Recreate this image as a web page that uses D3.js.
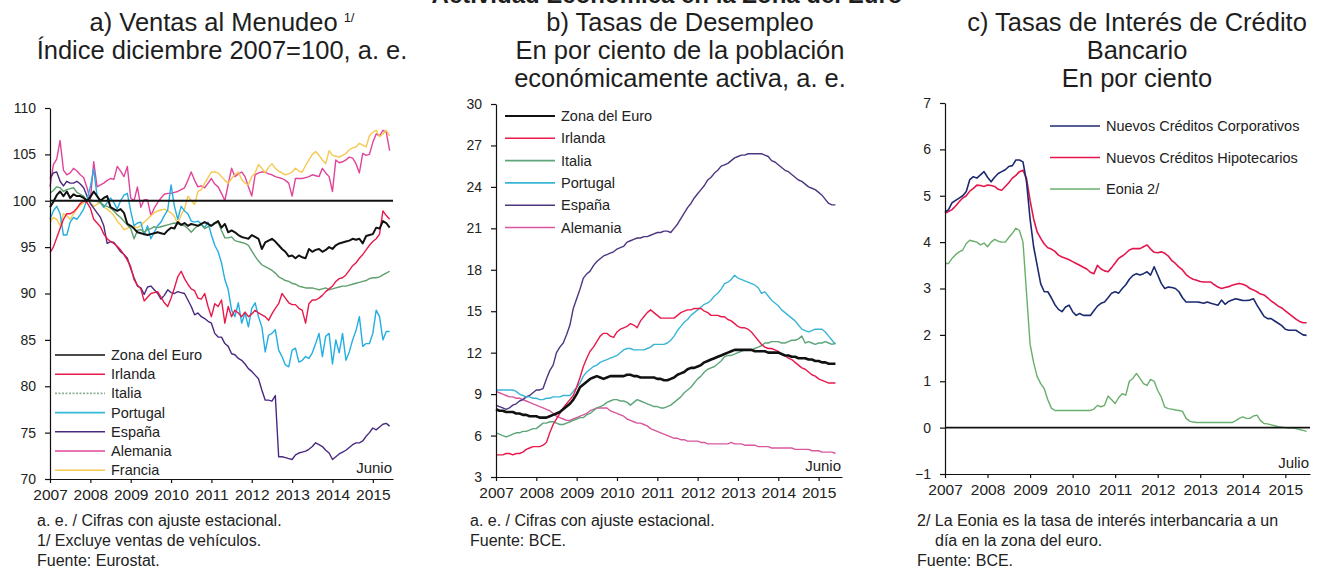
<!DOCTYPE html>
<html>
<head>
<meta charset="utf-8">
<script src="https://d3js.org/d3.v7.min.js"></script>
<style>
  body { margin: 0; background: #fff; }
  svg { display: block; font-family: "Liberation Sans", Arial, sans-serif; }
  .title { font-size: 25.5px; fill: #1e1e1e; text-anchor: middle; }
  .suptitle { font-size: 24px; font-weight: bold; fill: #1e1e1e; text-anchor: middle; }
  .axis path, .axis line { stroke: #111; stroke-width: 1.2px; }
  .yaxis text { font-size: 14px; fill: #222; }
  .xaxis text { font-family: "Liberation Sans Narrow", "Arial Narrow", sans-serif; font-size: 15.5px; fill: #222; }
  .legend text { font-size: 14.5px; fill: #222; }
  .note { font-family: "Liberation Sans Narrow", "Arial Narrow", sans-serif; font-size: 16px; fill: #222; }
  .endlabel { font-size: 15px; fill: #222; text-anchor: end; }
</style>
</head>
<body>
<script>
// ---- data ----
var years = [2007, 2008, 2009, 2010, 2011, 2012, 2013, 2014, 2015];
var aTicks = [70, 75, 80, 85, 90, 95, 100, 105, 110];
var bTicks = [3, 6, 9, 12, 15, 18, 21, 24, 27, 30];
var cTicks = [-1, 0, 1, 2, 3, 4, 5, 6, 7];

// a) Ventas al menudeo, enero 2007 - junio 2015
var aZona = [99.3,99.9,100.6,101.0,100.5,101.0,100.3,100.7,100.5,100.5,100.3,100.0,
  100.4,101.0,100.5,100.0,100.3,100.5,99.3,99.1,98.9,99.1,98.7,97.5,
  97.3,97.0,96.6,96.5,96.4,96.3,96.4,96.5,96.6,96.5,96.4,96.8,
  97.1,97.0,97.7,97.4,97.6,97.3,97.5,97.4,97.3,97.5,97.7,97.5,
  97.3,97.6,97.8,97.1,97.5,96.6,96.8,96.6,96.3,96.1,96.0,95.9,
  96.3,96.1,95.9,94.8,95.5,95.7,95.9,95.6,95.2,94.8,94.5,94.0,
  94.1,93.8,94.1,93.9,93.8,94.8,94.5,94.7,94.8,94.5,94.7,95.0,
  94.8,95.2,95.4,95.5,95.6,95.7,95.9,95.8,95.9,95.4,96.2,96.3,
  96.4,97.1,97.0,97.8,97.6,97.1];
var aIrlanda = [94.4,95.0,96.0,97.0,98.0,98.6,98.6,98.8,99.2,99.7,100.0,99.8,
  99.2,98.0,97.6,97.2,96.4,95.9,95.6,95.4,95.1,94.7,94.2,93.6,
  92.9,91.5,90.9,90.5,89.2,89.6,90.0,90.1,90.2,89.6,89.0,88.6,
  89.5,90.6,91.8,92.4,91.6,91.0,90.5,90.3,89.5,89.4,90.0,88.6,
  87.5,88.9,88.6,89.3,86.8,88.6,87.5,88.2,87.9,87.5,88.0,87.5,
  87.8,88.2,87.9,87.7,87.5,87.1,87.8,88.4,88.9,90.0,89.5,89.0,
  88.8,88.8,88.4,88.2,86.8,88.9,89.3,89.3,89.5,89.8,90.2,90.5,
  90.8,91.3,91.6,91.7,92.0,92.5,93.0,93.3,93.8,94.2,94.7,95.2,
  95.6,95.9,96.4,98.9,98.4,98.0];
var aItalia = [100.8,101.1,101.5,101.4,101.0,101.2,101.3,101.4,100.9,100.7,100.5,100.0,
  100.1,100.0,99.9,99.8,99.5,99.4,99.2,98.9,98.5,98.2,97.8,97.4,
  97.0,95.9,96.8,96.9,96.6,96.9,97.0,97.2,97.1,97.2,97.3,97.4,
  97.5,97.6,97.5,97.4,97.3,97.0,96.6,97.0,97.3,97.4,97.0,97.2,
  97.3,97.5,97.7,96.8,96.0,96.0,96.1,95.7,95.6,95.5,95.4,95.2,
  94.6,94.0,93.5,93.1,92.9,92.7,92.5,92.2,91.8,91.6,91.4,91.3,
  91.1,91.0,90.8,90.7,90.6,90.6,90.6,90.5,90.4,90.5,90.6,90.4,
  90.5,90.6,90.7,90.8,90.8,90.9,91.0,91.1,91.2,91.3,91.4,91.6,
  91.7,91.7,91.8,92.0,92.2,92.4];
var aPortugal = [98.0,98.9,99.4,98.6,96.3,96.3,97.7,98.2,98.0,98.5,99.1,100.1,
  101.5,103.4,100.5,99.8,99.3,99.8,100.3,99.8,99.1,100.0,100.6,100.8,
  98.9,97.3,97.6,97.7,96.3,97.3,95.9,96.6,97.3,97.7,98.4,99.0,
  101.7,99.4,98.0,99.4,98.9,98.6,97.8,97.7,97.8,97.5,97.1,97.7,
  96.3,95.2,94.5,93.3,91.5,90.4,88.2,87.5,89.0,86.8,87.9,86.4,
  88.4,89.0,87.5,86.4,83.7,85.5,85.7,86.1,83.9,83.2,82.3,82.1,
  83.9,84.1,82.6,82.8,83.2,83.0,83.6,84.6,85.7,83.2,85.4,85.7,
  82.4,85.0,83.6,85.7,82.8,83.7,85.0,86.0,87.5,84.3,84.6,84.6,
  85.7,88.2,87.5,85.0,85.9,85.9];
var aEspana = [102.4,103.0,103.1,102.1,101.6,102.1,101.9,101.9,102.1,101.8,101.4,100.5,
  99.7,99.2,98.7,98.2,97.3,95.4,95.6,95.5,95.0,94.5,94.2,93.8,
  92.7,91.7,90.8,90.6,89.9,90.7,90.8,90.4,90.0,89.4,89.8,90.4,
  90.1,90.0,90.2,90.1,90.0,89.3,88.6,87.7,87.9,87.5,87.3,87.0,
  86.8,85.7,85.3,85.3,84.6,84.3,83.5,83.4,83.0,82.8,82.4,81.9,
  81.6,81.2,80.8,79.6,78.5,78.5,78.4,79.0,72.4,72.4,72.3,72.2,
  72.1,72.6,72.8,72.9,73.0,73.2,73.5,73.9,73.7,73.5,73.1,72.8,
  72.1,72.4,72.7,72.9,73.1,73.4,73.7,73.9,73.9,74.1,74.6,75.0,
  75.5,75.3,75.6,75.9,76.0,75.7];
var aAlemania = [101.5,103.9,104.5,106.5,103.3,102.8,103.0,103.5,103.2,102.8,102.5,101.4,
  100.1,104.2,101.5,101.7,101.9,102.2,102.4,102.3,103.7,103.2,102.6,103.7,
  100.3,100.0,101.5,99.3,100.1,100.1,98.4,99.2,99.8,100.3,100.7,100.8,
  100.8,100.9,101.0,101.2,101.4,102.2,103.1,102.2,101.5,101.6,101.4,101.9,
  102.4,101.8,101.5,100.8,100.0,101.8,103.5,102.6,102.9,103.1,102.6,101.5,
  100.5,102.8,103.0,103.1,103.1,102.9,102.8,102.6,102.5,102.4,102.2,101.9,
  100.5,102.4,102.4,102.4,102.5,102.6,102.8,102.7,102.6,103.5,103.0,102.6,
  101.0,104.4,104.1,104.2,104.4,104.7,104.6,104.0,103.0,105.1,104.9,105.0,
  106.3,107.2,107.0,107.6,107.4,105.4];
var aFrancia = [97.7,98.2,98.0,97.3,98.6,98.4,98.0,98.6,99.1,99.5,99.8,100.0,
  99.8,99.4,99.6,99.8,99.3,99.1,98.8,98.4,97.8,97.4,96.9,97.0,
  97.3,97.2,97.1,97.3,97.7,98.0,98.4,98.7,98.9,99.0,99.1,98.9,
  98.7,98.3,97.5,98.5,99.1,100.5,100.0,99.6,101.0,101.2,101.9,102.5,
  103.1,103.1,103.0,102.6,102.2,101.9,102.4,102.8,103.1,102.3,101.9,101.7,
  102.6,103.0,103.9,103.5,103.0,103.6,104.0,103.5,103.2,103.0,102.8,102.9,
  103.1,103.5,103.2,103.1,103.8,104.4,105.0,105.3,104.9,104.4,104.0,105.4,
  104.9,104.8,104.7,104.9,105.1,105.5,105.7,105.8,106.2,106.0,105.8,107.0,
  107.4,107.6,106.9,107.2,107.6,107.0];

// b) Tasas de desempleo, enero 2007 - junio 2015
var bZona = [7.9,7.8,7.8,7.7,7.7,7.7,7.6,7.6,7.5,7.5,7.4,7.4,
  7.4,7.3,7.3,7.3,7.4,7.5,7.6,7.7,7.9,8.1,8.3,8.6,
  9.0,9.5,9.7,9.9,10.1,10.2,10.3,10.2,10.1,10.2,10.3,10.3,
  10.3,10.3,10.3,10.4,10.4,10.3,10.3,10.2,10.2,10.2,10.2,10.2,
  10.1,10.1,10.0,10.0,10.1,10.2,10.4,10.5,10.6,10.8,10.9,10.9,
  11.0,11.1,11.3,11.4,11.5,11.6,11.7,11.8,11.9,12.0,12.1,12.2,
  12.2,12.2,12.2,12.2,12.2,12.1,12.1,12.1,12.1,12.0,12.0,12.0,
  12.0,11.9,11.8,11.8,11.7,11.7,11.6,11.6,11.6,11.5,11.5,11.4,
  11.4,11.3,11.3,11.2,11.2,11.2];
var bIrlanda = [4.6,4.6,4.6,4.7,4.7,4.6,4.7,4.7,4.8,5.0,5.1,5.2,
  5.2,5.2,5.3,5.5,6.2,6.8,7.2,7.6,8.0,8.3,8.6,8.9,
  9.5,10.2,11.0,11.6,12.1,12.4,12.8,13.2,13.4,13.4,13.2,13.1,
  13.5,13.7,13.8,13.9,14.1,14.0,13.8,14.3,14.6,14.9,15.1,14.9,
  14.7,14.5,14.5,14.5,14.5,14.5,14.7,14.9,15.0,15.1,15.1,15.2,
  15.2,15.2,15.0,14.9,14.7,14.7,14.7,14.6,14.6,14.4,14.3,14.1,
  13.9,13.8,13.8,13.7,13.5,13.2,12.9,12.6,12.4,12.3,12.3,12.2,
  12.1,11.9,11.8,11.6,11.5,11.3,11.1,10.9,10.8,10.6,10.4,10.3,
  10.1,10.0,9.9,9.8,9.8,9.8];
var bItalia = [6.2,6.1,6.0,5.9,6.0,6.1,6.2,6.2,6.3,6.3,6.4,6.5,
  6.5,6.7,6.9,6.9,7.0,7.0,6.9,6.8,6.8,6.9,7.0,7.1,
  7.2,7.3,7.3,7.5,7.6,7.8,8.0,8.1,8.2,8.4,8.5,8.6,
  8.6,8.5,8.5,8.4,8.2,8.4,8.6,8.5,8.4,8.3,8.2,8.1,
  8.1,8.0,8.0,8.1,8.2,8.4,8.6,8.8,9.1,9.3,9.5,9.8,
  10.1,10.3,10.6,10.8,10.9,11.0,11.2,11.4,11.7,11.8,11.8,11.9,
  12.0,12.1,12.2,12.2,12.2,12.3,12.4,12.5,12.7,12.7,12.8,12.8,
  12.8,12.7,12.7,12.8,12.9,12.9,13.0,13.2,12.7,12.8,12.7,12.6,
  12.7,12.7,12.8,12.7,12.6,12.7];
var bPortugal = [9.3,9.3,9.3,9.3,9.3,9.3,9.2,9.0,8.9,8.8,8.8,8.7,
  8.7,8.6,8.6,8.7,8.7,8.8,8.8,8.8,8.9,8.9,8.9,9.2,
  9.5,9.8,10.3,10.6,10.8,11.0,11.1,11.3,11.4,11.5,11.6,11.7,
  11.8,12.0,12.2,12.3,12.3,12.2,12.2,12.2,12.2,12.3,12.4,12.6,
  12.6,12.6,12.6,12.7,12.9,13.2,13.6,13.9,14.2,14.4,14.7,14.9,
  15.1,15.3,15.5,15.6,15.8,16.1,16.3,16.6,17.0,17.1,17.3,17.6,
  17.4,17.3,17.2,17.1,17.0,16.9,16.7,16.3,16.4,16.1,15.8,15.6,
  15.4,15.1,14.9,14.7,14.5,14.3,14.0,13.7,13.6,13.5,13.6,13.7,
  13.7,13.7,13.5,13.2,12.9,12.6];
var bEspana = [8.2,8.1,8.0,7.9,8.0,8.2,8.3,8.5,8.6,8.8,8.9,9.1,
  9.3,9.3,9.4,10.1,10.7,11.1,12.0,12.4,12.7,13.3,14.0,15.2,
  15.9,16.6,17.4,17.7,17.9,18.3,18.6,18.8,19.0,19.1,19.2,19.3,
  19.5,19.6,19.7,20.0,20.1,20.2,20.3,20.3,20.4,20.4,20.5,20.6,
  20.7,20.7,20.8,20.8,20.7,21.0,21.3,21.7,22.1,22.5,22.8,23.2,
  23.5,23.8,24.1,24.5,24.7,25.0,25.2,25.5,25.6,25.7,25.9,26.1,
  26.2,26.3,26.3,26.4,26.4,26.4,26.4,26.4,26.3,26.2,25.9,25.8,
  25.6,25.4,25.2,25.1,24.9,24.7,24.5,24.4,24.2,24.0,23.9,23.8,
  23.6,23.4,23.1,22.8,22.7,22.7];
var bAlemania = [9.2,9.1,9.0,8.9,8.8,8.8,8.7,8.7,8.6,8.5,8.4,8.3,
  8.2,8.1,8.0,7.9,7.8,7.6,7.4,7.3,7.2,7.1,7.1,7.2,
  7.3,7.4,7.5,7.6,7.8,7.9,8.0,8.0,8.0,8.0,7.8,7.7,
  7.6,7.5,7.4,7.2,7.1,7.0,6.9,6.9,6.8,6.7,6.5,6.4,
  6.3,6.2,6.1,6.0,5.9,5.8,5.8,5.7,5.7,5.6,5.6,5.6,
  5.6,5.5,5.5,5.4,5.4,5.4,5.4,5.4,5.4,5.4,5.5,5.4,
  5.4,5.4,5.3,5.3,5.3,5.3,5.2,5.2,5.2,5.2,5.1,5.1,
  5.1,5.1,5.1,5.1,5.1,5.0,5.0,5.0,5.0,5.0,4.9,4.9,
  4.9,4.8,4.8,4.8,4.8,4.7];

// c) Tasas de interés, enero 2007 - julio 2015
var cCorporativos = [4.65,4.7,4.85,4.9,4.95,5.0,5.09,5.35,5.41,5.38,5.45,5.52,
  5.4,5.3,5.4,5.48,5.52,5.56,5.63,5.65,5.77,5.77,5.73,5.3,
  4.5,3.9,3.5,3.1,2.93,2.93,2.8,2.65,2.55,2.5,2.6,2.64,
  2.5,2.42,2.46,2.42,2.42,2.42,2.52,2.62,2.68,2.71,2.8,2.9,
  2.93,2.9,3.0,3.08,3.2,3.28,3.32,3.29,3.32,3.36,3.29,3.47,
  3.29,3.11,3.0,3.03,3.02,3.0,2.93,2.8,2.71,2.71,2.71,2.71,
  2.7,2.68,2.71,2.68,2.66,2.64,2.75,2.66,2.72,2.75,2.78,2.76,
  2.74,2.74,2.75,2.78,2.64,2.52,2.4,2.35,2.35,2.3,2.25,2.2,
  2.12,2.1,2.1,2.1,2.05,2.0,1.99];
var cHipotecarios = [4.62,4.66,4.7,4.78,4.87,4.95,5.0,5.1,5.16,5.23,5.22,5.2,
  5.23,5.22,5.2,5.14,5.12,5.2,5.28,5.38,5.44,5.52,5.55,5.37,
  4.9,4.5,4.22,4.08,3.96,3.88,3.85,3.8,3.72,3.68,3.65,3.62,
  3.58,3.54,3.5,3.46,3.42,3.35,3.32,3.5,3.42,3.38,3.36,3.45,
  3.55,3.65,3.7,3.76,3.83,3.86,3.86,3.86,3.9,3.94,3.85,3.78,
  3.77,3.79,3.76,3.7,3.6,3.54,3.46,3.4,3.3,3.24,3.2,3.18,
  3.15,3.14,3.14,3.14,3.08,3.03,3.0,3.02,3.04,3.07,3.09,3.11,
  3.09,3.06,3.0,2.97,2.93,2.88,2.86,2.8,2.73,2.68,2.62,2.58,
  2.52,2.46,2.4,2.34,2.29,2.26,2.26];
var cEonia = [3.54,3.54,3.65,3.73,3.79,3.83,3.97,4.04,4.02,4.0,3.94,3.98,
  3.9,4.0,4.06,4.02,4.0,4.0,4.1,4.19,4.3,4.25,4.0,2.9,
  1.8,1.4,1.1,0.95,0.84,0.6,0.42,0.37,0.37,0.37,0.37,0.37,
  0.37,0.37,0.37,0.37,0.37,0.37,0.4,0.48,0.45,0.48,0.68,0.6,
  0.52,0.65,0.73,0.7,1.0,1.06,1.17,1.06,0.95,0.91,1.04,1.0,
  0.8,0.66,0.44,0.41,0.4,0.38,0.37,0.35,0.2,0.14,0.12,0.11,
  0.11,0.11,0.11,0.11,0.11,0.11,0.11,0.11,0.11,0.11,0.15,0.2,
  0.23,0.2,0.2,0.25,0.27,0.15,0.09,0.08,0.06,0.04,0.02,0.01,
  0.0,-0.01,-0.01,-0.02,-0.04,-0.06,-0.08];

// ---- drawing ----
var svg = d3.select("body").append("svg").attr("width", 1334).attr("height", 569);

// overall heading, cut by the top edge as in the original page
svg.append("text").attr("class", "suptitle").attr("x", 667).attr("y", 3)
  .text("Actividad Económica en la Zona del Euro");

function drawPanel(p) {
  var x = d3.scaleLinear().domain([2007, p.xEnd]).range([p.left, p.right]);
  var y = d3.scaleLinear().domain([p.yTicks[0], p.yTicks[p.yTicks.length - 1]]).range([p.bottom, p.top]);
  var g = svg.append("g");

  var line = d3.line()
    .x(function(d, i) { return x(2007 + i / 12); })
    .y(function(d) { return y(d); });

  function addSeries(s) {
    g.append("path").datum(s.values)
      .attr("d", line)
      .attr("fill", "none")
      .attr("stroke", s.color)
      .attr("stroke-width", s.width || 1.4)
      .attr("stroke-linejoin", "round");
  }

  p.series.forEach(addSeries);

  if (p.refLine != null) {
    g.append("line")
      .attr("x1", p.left).attr("x2", p.right)
      .attr("y1", y(p.refLine)).attr("y2", y(p.refLine))
      .attr("stroke", "#111").attr("stroke-width", 1.8);
  }
  // series drawn on top of the reference line
  (p.onTop || []).forEach(addSeries);

  g.append("g").attr("class", "axis xaxis")
    .attr("transform", "translate(0," + p.bottom + ")")
    .call(d3.axisBottom(x).tickValues(years).tickFormat(d3.format("d"))
      .tickSizeInner(4).tickSizeOuter(0).tickPadding(6));

  g.append("g").attr("class", "axis yaxis")
    .attr("transform", "translate(" + p.left + ",0)")
    .call(d3.axisLeft(y).tickValues(p.yTicks).tickSizeInner(5).tickSizeOuter(0).tickPadding(9));

  // legend
  var lg = g.append("g").attr("class", "legend");
  p.legend.forEach(function(s, i) {
    var ly = p.legendY + i * p.legendStep;
    lg.append("line")
      .attr("x1", p.legendX).attr("x2", p.legendX + 50)
      .attr("y1", ly).attr("y2", ly)
      .attr("stroke", s.color).attr("stroke-width", s.legendWidth || 1.6)
      .attr("stroke-dasharray", s.dash || null);
    lg.append("text").attr("x", p.legendX + 56).attr("y", ly).attr("dy", "0.35em").text(s.name);
  });

  g.append("text").attr("class", "endlabel")
    .attr("x", p.right - 1).attr("y", p.bottom - 6).text(p.endLabel);

  // titles
  p.title.forEach(function(t, i) {
    var tx = g.append("text").attr("class", "title")
      .attr("x", p.titleX).attr("y", 31 + i * 28).text(t);
    if (i === 0 && p.titleSup) {
      tx.append("tspan").attr("font-size", "13px").attr("dx", 6).attr("dy", -9).text(p.titleSup);
    }
  });

  // notes
  p.notes.forEach(function(n, i) {
    g.append("text").attr("class", "note")
      .attr("x", p.noteX + (n.indent || 0)).attr("y", 526 + i * 20).text(n.text);
  });
}

var colZona = "#111111", colIrl = "#e8194b", colIta = "#5f9f6e", colPor = "#22aee2",
    colEsp = "#4a2a80", colAle = "#e0449a", colFra = "#f7c850";

var aZonaS = {name: "Zona del Euro", values: aZona, color: colZona, width: 2};
drawPanel({
  left: 50, right: 393, top: 108, bottom: 479, xEnd: 2015.5,
  yTicks: aTicks, refLine: 100,
  series: [
    {name: "Alemania", values: aAlemania, color: colAle},
    {name: "Francia", values: aFrancia, color: colFra},
    {name: "España", values: aEspana, color: colEsp},
    {name: "Portugal", values: aPortugal, color: colPor},
    {name: "Italia", values: aItalia, color: colIta},
    {name: "Irlanda", values: aIrlanda, color: colIrl}
  ],
  onTop: [aZonaS],
  legend: [
    aZonaS,
    {name: "Irlanda", color: colIrl},
    {name: "Italia", color: "#8fae98", dash: "2,1.5"},
    {name: "Portugal", color: "#35b8d8"},
    {name: "España", color: colEsp},
    {name: "Alemania", color: colAle},
    {name: "Francia", color: colFra}
  ],
  legendX: 55, legendY: 355, legendStep: 19.2,
  endLabel: "Junio",
  title: ["a) Ventas al Menudeo", "Índice diciembre 2007=100, a. e."], titleSup: "1/", titleX: 222,
  noteX: 37,
  notes: [{text: "a. e. / Cifras con ajuste estacional."}, {text: "1/ Excluye ventas de vehículos."}, {text: "Fuente: Eurostat."}]
});

var bZonaS = {name: "Zona del Euro", values: bZona, color: colZona, width: 2.6, legendWidth: 1.8};
drawPanel({
  left: 496, right: 842, top: 104, bottom: 477, xEnd: 2015.58,
  yTicks: bTicks,
  series: [
    {name: "Alemania", values: bAlemania, color: "#d8589e"},
    {name: "España", values: bEspana, color: "#4d3580"},
    {name: "Portugal", values: bPortugal, color: "#3ab5d6"},
    {name: "Italia", values: bItalia, color: "#5ea57a"},
    {name: "Irlanda", values: bIrlanda, color: colIrl}
  ],
  onTop: [bZonaS],
  legend: [
    bZonaS,
    {name: "Irlanda", color: colIrl},
    {name: "Italia", color: "#5ea57a"},
    {name: "Portugal", color: "#3ab5d6"},
    {name: "España", color: "#4d3580"},
    {name: "Alemania", color: "#d8589e"}
  ],
  legendX: 505, legendY: 116, legendStep: 22.3,
  endLabel: "Junio",
  title: ["b) Tasas de Desempleo", "En por ciento de la población", "económicamente activa, a. e."], titleX: 680,
  noteX: 470,
  notes: [{text: "a. e. / Cifras con ajuste estacional."}, {text: "Fuente: BCE."}]
});

drawPanel({
  left: 945, right: 1310, top: 103, bottom: 474, xEnd: 2015.58,
  yTicks: cTicks, refLine: 0,
  series: [
    {name: "Eonia 2/", values: cEonia, color: "#6aae6c"},
    {name: "Nuevos Créditos Hipotecarios", values: cHipotecarios, color: "#e3174d", width: 1.6},
    {name: "Nuevos Créditos Corporativos", values: cCorporativos, color: "#1c2a70", width: 1.6}
  ],
  legend: [
    {name: "Nuevos Créditos Corporativos", color: "#1c2a70"},
    {name: "Nuevos Créditos Hipotecarios", color: "#e3174d"},
    {name: "Eonia 2/", color: "#6aae6c"}
  ],
  legendX: 1050, legendY: 126, legendStep: 31.5,
  endLabel: "Julio",
  title: ["c) Tasas de Interés de Crédito", "Bancario", "En por ciento"], titleX: 1137,
  noteX: 917,
  notes: [{text: "2/ La Eonia es la tasa de interés interbancaria a un"}, {text: "día en la zona del euro.", indent: 18}, {text: "Fuente: BCE."}]
});
</script>
</body>
</html>
